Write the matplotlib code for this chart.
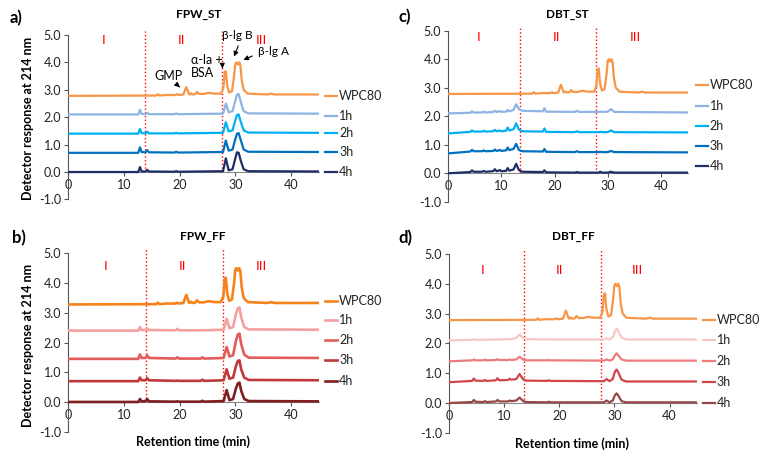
import matplotlib
matplotlib.use("Agg")
from matplotlib import pyplot as plt
import numpy as np

plt.rcParams['font.family'] = ['Lato', 'DejaVu Sans']

labels = ["WPC80", "1h", "2h", "3h", "4h"]

# WPC80 profile (same sample in every panel), height above its baseline
wpc_t = [0, 15.8, 16.1, 16.4, 17.5, 19.2, 19.5, 19.8, 20.7, 21.0, 21.2, 21.4, 21.7,
         21.8, 22.05, 22.3, 22.8, 23.15, 23.5, 24.3, 25.2, 26.2, 27.4, 27.85, 28.1,
         28.3, 28.55, 28.9, 29.4, 29.75, 30.0, 30.2, 30.45, 30.7, 30.9, 31.15, 31.5,
         32.2, 35.8, 36.4, 37.0, 45]
wpc_y = [-0.02, -0.01, 0.04, -0.01, 0.01, 0.01, 0.04, 0.01, 0.03, 0.2, 0.3, 0.2, 0.04,
         0.03, 0.07, 0.03, 0.04, 0.12, 0.05, 0.05, 0.09, 0.06, 0.06, 0.25, 0.85,
         0.88, 0.35, 0.1, 0.15, 0.65, 1.15, 1.2, 1.12, 1.2, 1.1, 0.55, 0.2,
         0.06, 0.03, 0.06, 0.03, 0.03]

# a) FPW_ST hydrolysates
a_t = [0, 12.6, 12.9, 13.2, 13.9, 14.2, 14.5, 19.1, 19.4, 19.7, 27.8, 28.3, 28.8,
       29.5, 30.0, 30.3, 30.6, 31.0, 31.5, 32.3, 45]
a_1h = [0, 0, 0.17, 0.02, 0.01, 0.06, 0.01, 0.01, 0.04, 0.01, 0.03, 0.40, 0.08,
        0.12, 0.50, 0.72, 0.75, 0.45, 0.12, 0.04, 0.03]
a_2h = [0, 0, 0.17, 0.02, 0.01, 0.07, 0.01, 0.01, 0.03, 0.01, 0.03, 0.42, 0.08,
        0.12, 0.48, 0.68, 0.70, 0.42, 0.12, 0.04, 0.03]
a_3h = [0, 0, 0.20, 0.03, 0.02, 0.10, 0.02, 0.01, 0.04, 0.01, 0.03, 0.45, 0.08,
        0.12, 0.50, 0.70, 0.72, 0.45, 0.12, 0.04, 0.03]
a_4h = [0, 0, 0.18, 0.02, 0.02, 0.08, 0.02, 0.01, 0.03, 0.01, 0.03, 0.50, 0.06,
        0.10, 0.50, 0.72, 0.70, 0.40, 0.10, 0.03, 0.02]

# b) FPW_FF hydrolysates
b_t = [0, 12.6, 12.9, 13.2, 13.9, 14.2, 14.5, 19.3, 19.6, 19.9, 23.8, 24.1, 24.4,
       27.9, 28.45, 28.95, 29.6, 30.1, 30.45, 30.75, 31.05, 31.6, 32.4, 45]
b_1h = [0, 0, 0.12, 0.02, 0.02, 0.06, 0.02, 0.01, 0.06, 0.01, 0.01, 0.02, 0.01,
        0.03, 0.40, 0.08, 0.12, 0.55, 0.75, 0.78, 0.45, 0.12, 0.04, 0.03]
b_2h = [0, 0, 0.15, 0.03, 0.03, 0.12, 0.03, 0.01, 0.05, 0.01, 0.01, 0.05, 0.01,
        0.03, 0.40, 0.08, 0.12, 0.60, 0.82, 0.85, 0.50, 0.14, 0.04, 0.03]
b_3h = [0, 0, 0.12, 0.03, 0.03, 0.10, 0.03, 0.01, 0.02, 0.01, 0.01, 0.05, 0.01,
        0.03, 0.40, 0.08, 0.12, 0.50, 0.68, 0.70, 0.40, 0.12, 0.04, 0.03]
b_4h = [0, 0, 0.10, 0.02, 0.03, 0.10, 0.02, 0.01, 0.02, 0.01, 0.01, 0.04, 0.01,
        0.03, 0.40, 0.06, 0.10, 0.45, 0.62, 0.65, 0.38, 0.10, 0.03, 0.02]

# c) DBT_ST hydrolysates
c_t = [0, 0.4, 4.2, 4.5, 4.8, 6.4, 6.7, 7.0, 8.5, 8.8, 9.1, 9.4, 9.7, 10.0, 10.9,
       11.2, 11.5, 12.3, 12.8, 13.3, 13.6, 14.0, 17.8, 18.1, 18.4, 23.8, 24.2, 24.6,
       28.3, 28.6, 28.9, 30.0, 30.6, 31.2, 45]
c_1h = [0, 0, 0.02, 0.07, 0.03, 0.03, 0.06, 0.03, 0.05, 0.09, 0.05, 0.06, 0.08, 0.05,
        0.06, 0.12, 0.07, 0.12, 0.32, 0.15, 0.12, 0.09, 0.07, 0.18, 0.06, 0.05, 0.09,
        0.05, 0.05, 0.06, 0.05, 0.06, 0.15, 0.05, 0.03]
c_2h = [0, 0, 0.05, 0.10, 0.06, 0.06, 0.09, 0.06, 0.07, 0.12, 0.07, 0.08, 0.10, 0.07,
        0.09, 0.20, 0.10, 0.14, 0.35, 0.13, 0.10, 0.07, 0.06, 0.17, 0.05, 0.04, 0.07,
        0.04, 0.04, 0.05, 0.04, 0.04, 0.10, 0.04, 0.03]
c_3h = [0, 0, 0.06, 0.12, 0.07, 0.07, 0.10, 0.07, 0.08, 0.13, 0.08, 0.09, 0.12, 0.08,
        0.10, 0.20, 0.11, 0.15, 0.33, 0.12, 0.09, 0.07, 0.06, 0.15, 0.05, 0.04, 0.07,
        0.04, 0.04, 0.05, 0.04, 0.04, 0.08, 0.04, 0.03]
c_4h = [0, 0, 0.04, 0.10, 0.05, 0.05, 0.08, 0.05, 0.07, 0.14, 0.07, 0.08, 0.11, 0.07,
        0.08, 0.18, 0.09, 0.13, 0.33, 0.11, 0.08, 0.05, 0.04, 0.10, 0.03, 0.02, 0.04,
        0.02, 0.02, 0.05, 0.02, 0.02, 0.05, 0.02, 0.02]

# d) DBT_FF hydrolysates
d_t = [0, 0.4, 4.2, 4.5, 4.8, 6.2, 6.5, 6.8, 8.5, 8.8, 9.1, 10.7, 11.0, 11.3, 12.2,
       12.8, 13.4, 14.0, 17.8, 18.1, 18.4, 28.1, 28.6, 29.1, 29.7, 30.1, 30.4, 30.7,
       31.3, 32.1, 45]
d_1h = [0, 0, 0.02, 0.04, 0.02, 0.02, 0.03, 0.02, 0.03, 0.04, 0.03, 0.04, 0.05, 0.04,
        0.08, 0.20, 0.08, 0.04, 0.03, 0.05, 0.03, 0.03, 0.07, 0.03, 0.10, 0.30, 0.40,
        0.30, 0.10, 0.03, 0.03]
d_2h = [0, 0, 0.03, 0.06, 0.03, 0.03, 0.05, 0.03, 0.04, 0.07, 0.04, 0.04, 0.06, 0.04,
        0.06, 0.15, 0.06, 0.03, 0.03, 0.04, 0.03, 0.02, 0.06, 0.02, 0.06, 0.20, 0.27,
        0.20, 0.06, 0.02, 0.02]
d_3h = [0, 0, 0.04, 0.12, 0.05, 0.04, 0.07, 0.04, 0.06, 0.13, 0.06, 0.07, 0.11, 0.08,
        0.10, 0.27, 0.10, 0.05, 0.04, 0.06, 0.04, 0.03, 0.10, 0.03, 0.10, 0.35, 0.42,
        0.33, 0.08, 0.02, 0.02]
d_4h = [0, 0, 0.03, 0.10, 0.04, 0.03, 0.06, 0.03, 0.05, 0.10, 0.05, 0.05, 0.08, 0.06,
        0.08, 0.18, 0.07, 0.03, 0.02, 0.04, 0.02, 0.02, 0.08, 0.02, 0.08, 0.26, 0.32,
        0.25, 0.06, 0.02, 0.02]

# baseline offsets of each trace
offs_a = [2.8, 2.1, 1.4, 0.7, 0.0]
offs_b = [3.3, 2.4, 1.45, 0.7, 0.0]
offs_c = [2.8, 2.1, 1.4, 0.7, 0.0]
offs_d = [2.8, 2.1, 1.4, 0.7, 0.0]

cols_a = ['#F79646', '#8DB4E2', '#00B0F0', '#0070C0', '#1F2F66']
cols_b = ['#F7821B', '#F4A0A0', '#E35B5B', '#C0393B', '#7F1F1F']
cols_d = ['#F79646', '#F8C8C8', '#EE7B7B', '#D0454A', '#964646']

panels = [
    dict(name='a)', rect=[0.0888, 0.5693, 0.3276, 0.3551],
         t=a_t, ys=[a_1h, a_2h, a_3h, a_4h], offs=offs_a, cols=cols_a,
         vl=[13.8, 27.7], rom=[6.3, 20.3, 34.6], romy=4.8,
         leg=[2.78, 2.03, 1.42, 0.72, 0.0], legx=46.1, lw=1.6),
    dict(name='c)', rect=[0.5849, 0.5644, 0.3128, 0.3693],
         t=c_t, ys=[c_1h, c_2h, c_3h, c_4h], offs=offs_c, cols=cols_a,
         vl=[13.5, 27.8], rom=[5.8, 20.4, 35.1], romy=4.75,
         leg=[3.1, 2.35, 1.64, 0.95, 0.25], legx=46.6, lw=1.6),
    dict(name='b)', rect=[0.0888, 0.0676, 0.3276, 0.3853],
         t=b_t, ys=[b_1h, b_2h, b_3h, b_4h], offs=offs_b, cols=cols_b,
         vl=[14.0, 27.8], rom=[6.8, 20.6, 34.6], romy=4.55,
         leg=[3.4, 2.76, 2.09, 1.42, 0.71], legx=46.1, lw=1.9),
    dict(name='d)', rect=[0.5862, 0.0654, 0.3238, 0.386],
         t=d_t, ys=[d_1h, d_2h, d_3h, d_4h], offs=offs_d, cols=cols_d,
         vl=[13.6, 27.5], rom=[6.1, 20.1, 34.2], romy=4.45,
         leg=[2.8, 2.1, 1.4, 0.7, 0.0], legx=46.1, lw=1.6),
]

W, H = 766, 463
fig = plt.figure(figsize=(W / 100, H / 100), dpi=100)

for p in panels:
    ax = fig.add_axes(p['rect'])
    traces = [(wpc_t, wpc_y)] + [(p['t'], y) for y in p['ys']]
    for i, (tt, yy) in enumerate(traces):
        ax.plot(tt, np.array(yy) + p['offs'][i], color=p['cols'][i], lw=p['lw'],
                solid_joinstyle='round', zorder=3)
        # legend entry beside the trace
        ly = p['leg'][i]
        ax.plot([p['legx'], p['legx'] + 2.2], [ly, ly], color=p['cols'][i],
                lw=p['lw'], clip_on=False)
        ax.text(p['legx'] + 2.5, ly, labels[i], fontsize=9, va='center',
                ha='left', color='#222222', clip_on=False)
    for v in p['vl']:
        ax.plot([v, v], [0, 5.15], color='red', ls=':', lw=1.0, zorder=2,
                clip_on=False)
    for xr, s in zip(p['rom'], ['I', 'II', 'III']):
        ax.text(xr, p['romy'], s, color='red', fontsize=9.5, ha='center',
                va='center', family='DejaVu Sans')

    ax.set_xlim(0, 45)
    ax.set_ylim(-1, 5)
    ax.set_xticks([0, 10, 20, 30, 40])
    ax.set_yticks([-1, 0, 1, 2, 3, 4, 5])
    ax.set_yticklabels(['%.1f' % v for v in [-1, 0, 1, 2, 3, 4, 5]])
    for s in ['top', 'right']:
        ax.spines[s].set_visible(False)
    ax.spines['bottom'].set_position(('data', 0))
    ax.spines['left'].set_color('#555555')
    ax.spines['bottom'].set_color('#888888')
    ax.tick_params(axis='both', labelsize=9, colors='#222222', length=3,
                   width=0.8, direction='out', pad=2)
    ax.tick_params(axis='both', color='#555555')
    ax.patch.set_visible(False)

    if p['name'] == 'a)':
        arrow = dict(arrowstyle='-|>', color='black', lw=0.8, mutation_scale=7)
        ax.annotate('GMP', xy=(20.4, 3.02), xytext=(15.4, 3.5), fontsize=9,
                    ha='left', va='center', arrowprops=arrow)
        ax.annotate('α-la +\nBSA', xy=(27.7, 3.78), xytext=(22.0, 3.85),
                    fontsize=9, ha='left', va='center', linespacing=1.05,
                    arrowprops=dict(arrow, relpos=(1.0, 0.6)))
        ax.annotate('β-lg B', xy=(29.6, 4.12), xytext=(27.6, 5.0), fontsize=8.5,
                    ha='left', va='center',
                    arrowprops=dict(arrow, relpos=(0.6, 0.0)))
        ax.annotate('β-lg A', xy=(31.0, 4.05), xytext=(34.0, 4.4), fontsize=8.5,
                    ha='left', va='center',
                    arrowprops=dict(arrow, relpos=(0.0, 0.3)))


def px(x, y):
    return x / W, 1 - y / H


for (x, y), s in zip([(16, 18), (405, 17), (19, 238), (405, 238)],
                     ['a)', 'c)', 'b)', 'd)']):
    fig.text(*px(x, y), s, fontsize=12, fontweight='bold', ha='center', va='center')
for (x, y), s in zip([(199, 15), (567, 15), (203, 237), (573, 237)],
                     ['FPW_ST', 'DBT_ST', 'FPW_FF', 'DBT_FF']):
    fig.text(*px(x, y), s, fontsize=8.5, fontweight='bold', ha='center', va='center')
for y in [118, 345]:
    fig.text(*px(28, y), 'Detector response at 214 nm', fontsize=9,
             fontweight='bold', rotation=90, ha='center', va='center')
for x, y in [(193, 442), (572, 444)]:
    fig.text(*px(x, y), 'Retention time (min)', fontsize=9, fontweight='bold',
             ha='center', va='center')

fig.savefig('out.png', dpi=100)
